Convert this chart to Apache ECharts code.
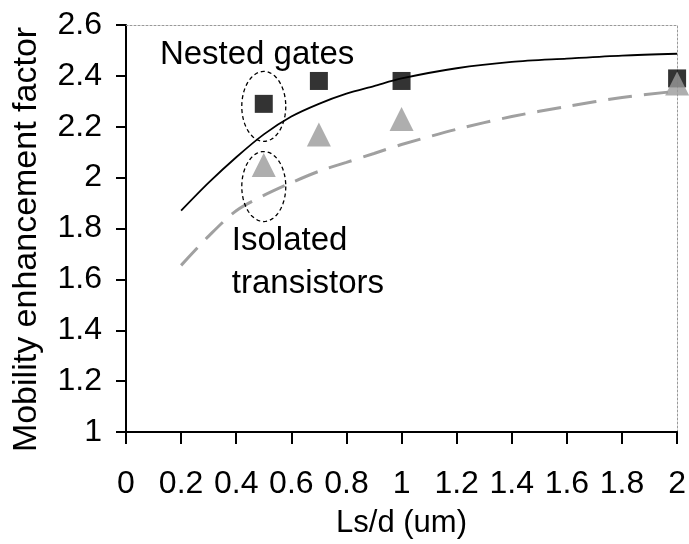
<!DOCTYPE html>
<html>
<head>
<meta charset="utf-8">
<script src="https://cdn.jsdelivr.net/npm/echarts@6/dist/echarts.min.js"></script>
<style>
  html, body { margin: 0; padding: 0; background: #fff; }
  #chart { width: 689px; height: 544px; }
</style>
</head>
<body>
<div id="chart"></div>
<script>
// Measured points: Ls/d (um) vs. mobility enhancement factor
const measuredX = [0.5, 0.7, 1, 2];
const nestedGates = [2.29, 2.38, 2.38, 2.39];
const isolatedTransistors = [2.05, 2.17, 2.23, 2.37];

// Model curves
const modelX = [0.2, 0.3, 0.4, 0.5, 0.6, 0.7, 0.8, 0.9, 1.0, 1.2, 1.4, 1.6, 1.8, 2.0];
const nestedModel = [1.87, 1.98, 2.08, 2.17, 2.24, 2.29, 2.33, 2.36, 2.39, 2.43, 2.455, 2.468, 2.48, 2.487];
const isolatedModel = [1.655, 1.77, 1.87, 1.93, 1.98, 2.025, 2.06, 2.095, 2.13, 2.19, 2.24, 2.28, 2.315, 2.34];

// Axis tick labels
const xTickLabels = ['0', '0.2', '0.4', '0.6', '0.8', '1', '1.2', '1.4', '1.6', '1.8', '2'];
const yTickLabels = ['1', '1.2', '1.4', '1.6', '1.8', '2', '2.2', '2.4', '2.6'];

// Annotation captions
const noteTexts = ['Nested gates', 'Isolated\ntransistors'];

const FONT = '"Liberation Sans", Arial, sans-serif';
const pairs = (xs, ys) => xs.map((x, i) => [x, ys[i]]);

// Dashed ellipse outline around a data point (pixel radii)
function ellipseItem(params, api) {
  const c = api.coord([api.value(0), api.value(1)]);
  const rx = 22, ry = 35, pts = [];
  for (let k = 0; k < 72; k++) {
    const a = (k / 72) * Math.PI * 2;
    pts.push([c[0] + rx * Math.cos(a), c[1] + ry * Math.sin(a)]);
  }
  return {
    type: 'polygon',
    shape: { points: pts },
    style: { fill: 'none', stroke: '#000', lineWidth: 1.3, lineDash: [4, 3] }
  };
}

// Annotation text anchored at data coordinates
function noteItem(params, api) {
  const c = api.coord([api.value(0), api.value(1)]);
  return {
    type: 'text',
    x: c[0], y: c[1],
    style: {
      text: noteTexts[params.dataIndex],
      fill: '#000',
      font: '33px ' + FONT,
      align: 'left',
      verticalAlign: 'middle',
      lineHeight: 43
    }
  };
}

const chart = echarts.init(document.getElementById('chart'), null, { renderer: 'canvas' });

const option = {
  backgroundColor: '#fff',
  animation: false,
  grid: { left: 126, right: 11, top: 25, bottom: 108, containLabel: false },
  xAxis: [{
    type: 'value', min: 0, max: 2, interval: 0.2,
    name: 'Ls/d (um)', nameLocation: 'middle', nameGap: 76,
    nameTextStyle: { fontFamily: FONT, fontSize: 31, color: '#000' },
    axisLine: { show: true, onZero: false, lineStyle: { color: '#000', width: 2 } },
    axisTick: { show: true, inside: false, length: 12, lineStyle: { color: '#000', width: 2 } },
    axisLabel: {
      margin: 36, fontFamily: FONT, fontSize: 32, color: '#000',
      formatter: v => xTickLabels[Math.round(v / 0.2)]
    },
    splitLine: { show: false }
  }, {
    type: 'value', min: 0, max: 2, position: 'top',
    axisLine: { show: true, onZero: false, lineStyle: { color: '#999', width: 1, type: [2, 2] } },
    axisTick: { show: false }, axisLabel: { show: false }, splitLine: { show: false }
  }],
  yAxis: [{
    type: 'value', min: 1, max: 2.6, interval: 0.2,
    name: 'Mobility enhancement factor', nameLocation: 'middle', nameGap: 82,
    nameTextStyle: { fontFamily: FONT, fontSize: 34, color: '#000', padding: [0, 22, 0, 0] },
    axisLine: { show: true, onZero: false, lineStyle: { color: '#000', width: 2 } },
    axisTick: { show: true, inside: false, length: 10, lineStyle: { color: '#000', width: 2 } },
    axisLabel: {
      margin: 24, fontFamily: FONT, fontSize: 32, color: '#000',
      formatter: v => yTickLabels[Math.round((v - 1) / 0.2)]
    },
    splitLine: { show: false }
  }, {
    type: 'value', min: 1, max: 2.6, position: 'right',
    axisLine: { show: true, onZero: false, lineStyle: { color: '#999', width: 1, type: [2, 2] } },
    axisTick: { show: false }, axisLabel: { show: false }, splitLine: { show: false }
  }],
  series: [
    {
      name: 'Nested gates model', type: 'line', smooth: 0.3, symbol: 'none',
      data: pairs(modelX, nestedModel),
      lineStyle: { color: '#000', width: 1.8 }, z: 2
    },
    {
      name: 'Isolated transistors model', type: 'line', smooth: 0.3, symbol: 'none',
      data: pairs(modelX, isolatedModel),
      lineStyle: { color: '#a0a0a0', width: 3, type: [24, 12] }, z: 2
    },
    {
      name: 'Nested gates', type: 'scatter', symbol: 'rect', symbolSize: 18,
      data: pairs(measuredX, nestedGates), clip: false,
      itemStyle: { color: '#000' }, z: 3
    },
    {
      name: 'Isolated transistors', type: 'scatter', symbol: 'triangle', symbolSize: [24, 24],
      data: pairs(measuredX, isolatedTransistors), clip: false,
      itemStyle: { color: '#9a9a9a' }, z: 4
    },
    {
      name: 'groups', type: 'custom', renderItem: ellipseItem, clip: false,
      data: [[0.5, 2.28], [0.5, 1.965]], z: 5, silent: true
    },
    {
      name: 'notes', type: 'custom', renderItem: noteItem, clip: false,
      data: [[0.123, 2.484], [0.384, 1.668]],
      z: 6, silent: true
    }
  ]
};

chart.setOption(option);
</script>
</body>
</html>
